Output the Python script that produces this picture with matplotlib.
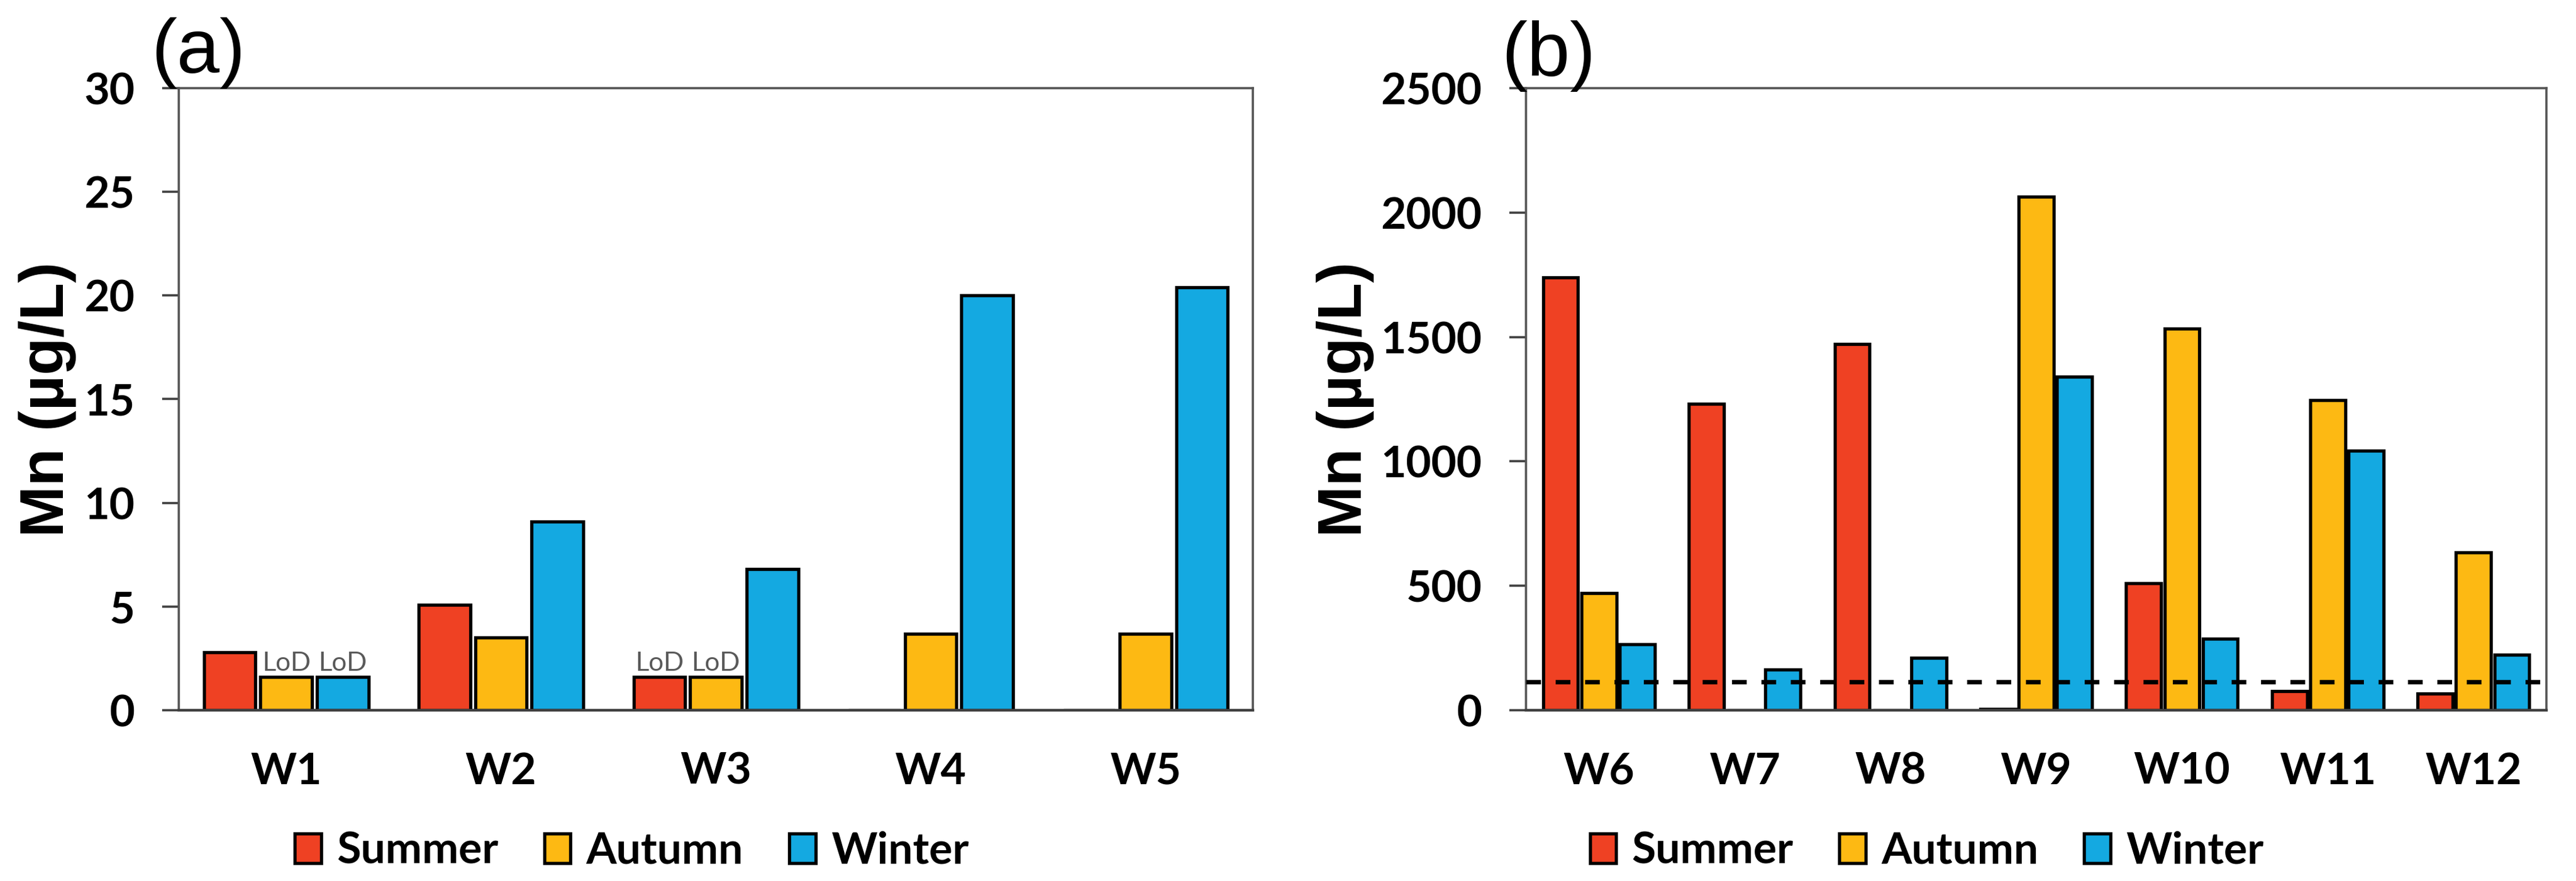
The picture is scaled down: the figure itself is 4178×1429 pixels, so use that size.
import matplotlib
matplotlib.use('Agg')
from matplotlib import pyplot as plt
import numpy as np


seasons = ['Summer', 'Autumn', 'Winter']
season_colors = ['#EF4123', '#FDB913', '#14A9E1']

# panel (a)
wells_a = ['W1', 'W2', 'W3', 'W4', 'W5']
summer_a = [2.8, 5.1, 1.6, 0, 0]
autumn_a = [1.6, 3.5, 1.6, 3.7, 3.7]
winter_a = [1.6, 9.1, 6.8, 20.0, 20.4]
# bars at the limit of detection, as (well index, season index)
lod_a = [(0, 1), (0, 2), (2, 0), (2, 1)]

# panel (b)
wells_b = ['W6', 'W7', 'W8', 'W9', 'W10', 'W11', 'W12']
summer_b = [1740, 1232, 1471, 5, 511, 77, 66]
autumn_b = [472, 0, 0, 2064, 1533, 1245, 635]
winter_b = [264, 163, 210, 1340, 287, 1042, 222]
guideline_b = 115

tick_font = 'Lato'
label_font = 'Liberation Sans'
tick_size = 25.5
dark = '#404040'


def draw_panel(ax, wells, series, ymax, ystep):
    x = np.arange(len(wells))
    offsets = [-0.263, 0, 0.263]
    bars = []
    for vals, off, col, name in zip(series, offsets, season_colors, seasons):
        b = ax.bar(x + off, vals, width=0.24, color=col, edgecolor='black',
                   linewidth=1.9, label=name)
        bars.append(b)
    ax.set_xlim(-0.5, len(wells) - 0.5)
    ax.set_ylim(0, ymax)
    ax.set_yticks(np.arange(0, ymax + ystep / 2, ystep))
    ax.set_xticks(x)
    ax.set_xticklabels(wells)
    for lab in ax.get_xticklabels() + ax.get_yticklabels():
        lab.set_fontfamily(tick_font)
        lab.set_fontweight('bold')
        lab.set_fontsize(tick_size)
    ax.tick_params(axis='y', length=9.7, width=1.3, color=dark, pad=16)
    ax.tick_params(axis='x', length=0, pad=24)
    for side in ['left', 'top', 'right']:
        ax.spines[side].set_color('#555555')
        ax.spines[side].set_linewidth(1.3)
    ax.spines['bottom'].set_color(dark)
    ax.spines['bottom'].set_linewidth(1.6)
    return bars


fig = plt.figure(figsize=(20.89, 7.145), dpi=200)
ax_a = fig.add_axes([0.0694, 0.1938, 0.4170, 0.7062])
ax_b = fig.add_axes([0.5924, 0.1938, 0.3961, 0.7062])

bars_a = draw_panel(ax_a, wells_a, [summer_a, autumn_a, winter_a], 30, 5)
bars_b = draw_panel(ax_b, wells_b, [summer_b, autumn_b, winter_b], 2500, 500)

for wi, si in lod_a:
    rect = bars_a[si][wi]
    ax_a.annotate('LoD', (rect.get_x() + rect.get_width() / 2, rect.get_height()),
                  xytext=(0, 3.6), textcoords='offset points', ha='center',
                  va='baseline', fontsize=15.5, family=tick_font, color='#595959')

ax_b.axhline(guideline_b, color='black', linewidth=2.6, linestyle=(0, (3.3, 3.3)),
             zorder=5)

# y labels and panel letters
fig.text(0.0185, 0.547, 'Mn (µg/L)', rotation=90, ha='center', va='center',
         family=label_font, fontweight='bold', fontsize=36)
fig.text(0.5222, 0.547, 'Mn (µg/L)', rotation=90, ha='center', va='center',
         family=label_font, fontweight='bold', fontsize=36)
fig.text(0.0771, 0.940, '(a)', ha='center', va='center', family=label_font,
         fontsize=45)
fig.text(0.6012, 0.936, '(b)', ha='center', va='center', family=label_font,
         fontsize=45)

for ax, cx in [(ax_a, 0.2453), (ax_b, 0.748)]:
    leg = ax.legend(loc='center', bbox_to_anchor=(cx, 0.034),
                    bbox_transform=fig.transFigure, ncol=3, frameon=False,
                    handlelength=0.6, handleheight=0.65, handletextpad=0.36,
                    columnspacing=1.05,
                    prop={'family': tick_font, 'weight': 'bold', 'size': tick_size})

fig.savefig('out.png', dpi=200)
